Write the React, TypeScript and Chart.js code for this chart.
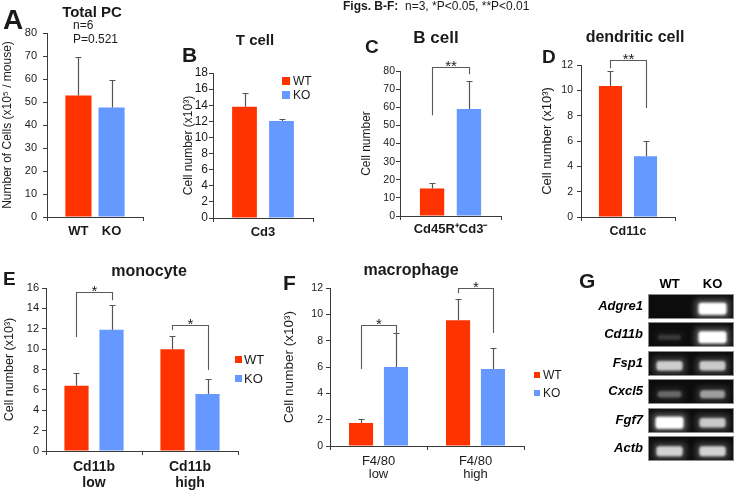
import React, { useEffect, useRef } from 'react';
import { Chart, registerables } from 'chart.js';

Chart.register(...registerables);

const FONT = '"Liberation Sans", Arial, Helvetica, sans-serif';
Chart.defaults.font.family = FONT;

const PAGE_W = 736;
const PAGE_H = 490;
const RED = '#FF3300';
const BLUE = '#6699FF';
const AXIS = '#3a3a3a';
const TEXT = '#1a1a1a';
const ERR = '#555555';

// ---------------- DATA ----------------
// A: Total PC
const aCategories = [''];
const aWT = [52.8];
const aKO = [47.6];
const aWTErr = [16.8];
const aKOErr = [12.1];

// B: T cell
const bCategories = ['Cd3'];
const bWT = [13.8];
const bKO = [12.05];
const bWTErr = [1.75];
const bKOErr = [0.2];

// C: B cell
const cCategories = ['Cd45R⁺Cd3⁻'];
const cWT = [15.2];
const cKO = [59.0];
const cWTErr = [3.1];
const cKOErr = [15.5];
const cBrackets = [{ cat: 0, left: 55.6, top: 82.2, right: 78.2, label: '**' }];

// D: dendritic cell
const dCategories = ['Cd11c'];
const dWT = [10.35];
const dKO = [4.8];
const dWTErr = [1.2];
const dKOErr = [1.2];
const dBrackets = [{ cat: 0, left: 11.75, top: 12.4, right: 8.6, label: '**' }];

// E: monocyte
const eCategories = [['Cd11b', 'low'], ['Cd11b', 'high']];
const eWT = [6.4, 10.0];
const eKO = [11.9, 5.6];
const eWTErr = [1.25, 1.3];
const eKOErr = [2.4, 1.45];
const eBrackets = [
  { cat: 0, left: 11.2, top: 15.6, right: 14.8, label: '*' },
  { cat: 1, left: 11.87, top: 12.37, right: 7.95, label: '*' },
];

// F: macrophage
const fCategories = [['F4/80', 'low'], ['F4/80', 'high']];
const fWT = [1.75, 9.55];
const fKO = [6.0, 5.85];
const fWTErr = [0.3, 1.65];
const fKOErr = [2.55, 1.6];
const fBrackets = [
  { cat: 0, left: 5.85, top: 9.19, right: 8.5, label: '*' },
  { cat: 1, left: 11.6, top: 12.0, right: 8.58, label: '*' },
];

// G: gel
const gelGenes = ['Adgre1', 'Cd11b', 'Fsp1', 'Cxcl5', 'Fgf7', 'Actb'];
const gelLanes = ['WT', 'KO'];
const gelWT = [0, 0.15, 0.7, 0.3, 1.0, 0.72];
const gelKO = [1.0, 1.0, 0.68, 0.5, 0.68, 0.72];

// ---------------- PLUGINS ----------------
const errorBarsPlugin: any = {
  id: 'errorBars',
  afterDatasetsDraw(chart: any, _a: any, opts: any) {
    const { ctx } = chart;
    const y = chart.scales.y;
    ctx.save();
    ctx.strokeStyle = opts.color || ERR;
    ctx.lineWidth = 1.2;
    chart.data.datasets.forEach((ds: any, i: number) => {
      const meta = chart.getDatasetMeta(i);
      meta.data.forEach((bar: any, j: number) => {
        const e = ds.errors ? ds.errors[j] : null;
        if (e == null) return;
        const v = ds.data[j];
        const x = Math.round(bar.x) + 0.5;
        const yTop = Math.round(y.getPixelForValue(v + e)) + 0.5;
        ctx.beginPath();
        ctx.moveTo(x, bar.y);
        ctx.lineTo(x, yTop);
        ctx.moveTo(x - (opts.cap || 3), yTop);
        ctx.lineTo(x + (opts.cap || 3), yTop);
        ctx.stroke();
      });
    });
    ctx.restore();
  },
};

const bracketPlugin: any = {
  id: 'brackets',
  afterDraw(chart: any, _a: any, opts: any) {
    const items = (opts && opts.items) || [];
    if (!items.length) return;
    const { ctx } = chart;
    const y = chart.scales.y;
    const m0 = chart.getDatasetMeta(0);
    const m1 = chart.getDatasetMeta(1);
    ctx.save();
    ctx.strokeStyle = opts.color;
    ctx.lineWidth = 1.1;
    items.forEach((b: any) => {
      const xl = Math.round(m0.data[b.cat].x) + 0.5;
      const xr = Math.round(m1.data[b.cat].x) + 0.5;
      const yl = y.getPixelForValue(b.left);
      const yt = Math.round(y.getPixelForValue(b.top)) + 0.5;
      const yr = y.getPixelForValue(b.right);
      ctx.beginPath();
      ctx.moveTo(xl, yl);
      ctx.lineTo(xl, yt);
      ctx.lineTo(xr, yt);
      ctx.lineTo(xr, yr);
      ctx.stroke();
      ctx.fillStyle = TEXT;
      ctx.font = `${opts.fontSize}px ${FONT}`;
      ctx.textAlign = 'center';
      ctx.textBaseline = 'alphabetic';
      ctx.fillText(b.label, (xl + xr) / 2, yt + opts.textDy);
    });
    ctx.restore();
  },
};

const miniLegendPlugin: any = {
  id: 'miniLegend',
  afterDraw(chart: any, _a: any, opts: any) {
    if (!opts || !opts.show) return;
    const { ctx } = chart;
    ctx.save();
    ctx.font = `${opts.fontSize}px ${FONT}`;
    ctx.textBaseline = 'middle';
    ctx.textAlign = 'left';
    chart.data.datasets.forEach((ds: any, i: number) => {
      const top = opts.y + i * opts.step;
      ctx.fillStyle = ds.backgroundColor;
      ctx.fillRect(opts.x, top, opts.size, opts.size);
      ctx.fillStyle = TEXT;
      ctx.fillText(ds.label, opts.x + opts.size + opts.textGap, top + opts.size / 2 + 0.5);
    });
    ctx.restore();
  },
};

const underLabelsPlugin: any = {
  id: 'underLabels',
  afterDraw(chart: any, _a: any, opts: any) {
    if (!opts || !opts.show) return;
    const { ctx, chartArea } = chart;
    ctx.save();
    ctx.font = `bold ${opts.fontSize}px ${FONT}`;
    ctx.fillStyle = TEXT;
    ctx.textAlign = 'center';
    ctx.textBaseline = 'alphabetic';
    chart.data.datasets.forEach((ds: any, i: number) => {
      chart.getDatasetMeta(i).data.forEach((bar: any) => {
        ctx.fillText(ds.label, bar.x, chartArea.bottom + opts.offset);
      });
    });
    ctx.restore();
  },
};

const gelPlugin: any = {
  id: 'gel',
  beforeDatasetsDraw(chart: any, _a: any, opts: any) {
    const { ctx, chartArea: ca } = chart;
    const y = chart.scales.y;
    const n = y.getLabels().length;
    const rowH = (ca.bottom - ca.top) / n;
    const w = ca.right - ca.left;
    const h = rowH - opts.gap;
    ctx.save();
    for (let i = 0; i < n; i++) {
      const yc = y.getPixelForValue(i);
      const top = Math.round(yc - h / 2);
      ctx.fillStyle = opts.rowColor;
      ctx.fillRect(ca.left, top, w, h);
      ctx.strokeStyle = opts.rowEdge;
      ctx.lineWidth = 1;
      ctx.strokeRect(ca.left + 0.5, top + 0.5, w - 1, h - 1);
    }
    chart.data.datasets.forEach((ds: any, di: number) => {
      const meta = chart.getDatasetMeta(di);
      meta.data.forEach((pt: any, j: number) => {
        const v = ds.data[j].v;
        if (!v) return;
        const xc = pt.x;
        const yc = pt.y + opts.bandDy;
        const top = Math.round(pt.y - h / 2);
        const bh = 4 + 8 * v;
        const bw = 22 + 6 * v;
        ctx.save();
        ctx.beginPath();
        ctx.rect(ca.left + 1, top + 1, w - 2, h - 2);
        ctx.clip();
        ctx.filter = 'blur(3px)';
        ctx.fillStyle = `rgba(255,255,255,${0.35 * v})`;
        ctx.fillRect(xc - bw / 2 - 3, yc - bh / 2 - 3, bw + 6, bh + 6);
        ctx.filter = 'blur(1.3px)';
        ctx.fillStyle = `rgba(255,255,255,${Math.min(1, v * 1.05)})`;
        ctx.beginPath();
        ctx.roundRect(xc - bw / 2, yc - bh / 2, bw, bh, 3);
        ctx.fill();
        ctx.restore();
      });
    });
    ctx.restore();
  },
};

// ---------------- CONFIG BUILDERS ----------------
function barConfig(p: any) {
  const padLeft = p.yTitleX - (p.yTitleSize * 1.2) / 2;
  return {
    type: 'bar',
    data: {
      labels: p.categories,
      datasets: [
        {
          label: 'WT',
          data: p.wt,
          errors: p.wtErr,
          backgroundColor: RED,
          borderWidth: 0,
          categoryPercentage: p.catPct,
          barPercentage: p.barPct,
        },
        {
          label: 'KO',
          data: p.ko,
          errors: p.koErr,
          backgroundColor: BLUE,
          borderWidth: 0,
          categoryPercentage: p.catPct,
          barPercentage: p.barPct,
        },
      ],
    },
    options: {
      animation: false,
      responsive: false,
      devicePixelRatio: 1,
      events: [],
      layout: {
        autoPadding: false,
        padding: { left: padLeft, top: p.area.t, right: PAGE_W - p.area.r, bottom: 0 },
      },
      plugins: {
        legend: { display: false },
        tooltip: { enabled: false },
        errorBars: { color: ERR, cap: 3 },
        brackets: { items: p.brackets || [], color: '#5a5a5a', fontSize: 15, textDy: 3 },
        miniLegend: p.legend ? { show: true, ...p.legend } : { show: false },
        underLabels: p.under ? { show: true, ...p.under } : { show: false },
      },
      scales: {
        x: {
          type: 'category',
          offset: true,
          grid: {
            offset: true,
            display: true,
            drawOnChartArea: false,
            drawTicks: true,
            tickLength: 4,
            color: AXIS,
          },
          border: { display: true, color: AXIS, width: 1 },
          ticks: {
            display: p.showX !== false,
            color: TEXT,
            padding: p.xPad,
            maxRotation: 0,
            autoSkip: false,
            font: p.xFont,
          },
          afterFit: (s: any) => {
            s.height = PAGE_H - p.area.b;
          },
        },
        y: {
          min: 0,
          max: p.yMax,
          grid: {
            display: true,
            drawOnChartArea: false,
            drawTicks: true,
            tickLength: 4,
            color: AXIS,
          },
          border: { display: true, color: AXIS, width: 1 },
          ticks: {
            stepSize: p.yStep,
            autoSkip: false,
            color: TEXT,
            padding: p.tickPad,
            font: { size: p.tickSize },
          },
          title: {
            display: true,
            text: p.yTitle,
            color: TEXT,
            padding: 0,
            font: { size: p.yTitleSize },
          },
          afterFit: (s: any) => {
            s.width = p.area.l - padLeft;
          },
        },
      },
    },
    plugins: [errorBarsPlugin, bracketPlugin, miniLegendPlugin, underLabelsPlugin],
  };
}

const panelA = {
  categories: aCategories, wt: aWT, ko: aKO, wtErr: aWTErr, koErr: aKOErr,
  yMax: 80, yStep: 10, yTitle: 'Number of Cells (x10⁵ / mouse)', yTitleSize: 12, yTitleX: 7.5,
  tickSize: 11, tickPad: 6, area: { l: 47, t: 33, r: 143, b: 217 },
  catPct: 0.69, barPct: 0.79, xFont: { size: 13, weight: 'bold' }, xPad: 2, showX: false,
  under: { offset: 18, fontSize: 13 },
};
const panelB = {
  categories: bCategories, wt: bWT, ko: bKO, wtErr: bWTErr, koErr: bKOErr,
  yMax: 18, yStep: 2, yTitle: 'Cell number (x10³)', yTitleSize: 12, yTitleX: 189,
  tickSize: 12, tickPad: 1, area: { l: 213, t: 73, r: 313, b: 218 },
  catPct: 0.74, barPct: 0.67, xFont: { size: 13, weight: 'bold' }, xPad: 3,
  legend: { x: 282, y: 77, size: 8, step: 14, textGap: 3, fontSize: 12 },
};
const panelC = {
  categories: cCategories, wt: cWT, ko: cKO, wtErr: cWTErr, koErr: cKOErr,
  yMax: 80, yStep: 10, yTitle: 'Cell number', yTitleSize: 12, yTitleX: 367,
  tickSize: 10.5, tickPad: 1, area: { l: 400, t: 71, r: 501, b: 216 },
  catPct: 0.73, barPct: 0.66, xFont: { size: 13, weight: 'bold' }, xPad: 2,
  brackets: cBrackets,
};
const panelD = {
  categories: dCategories, wt: dWT, ko: dKO, wtErr: dWTErr, koErr: dKOErr,
  yMax: 12, yStep: 2, yTitle: 'Cell number (x10³)', yTitleSize: 13, yTitleX: 547,
  tickSize: 10.5, tickPad: 4, area: { l: 581, t: 65, r: 675, b: 217 },
  catPct: 0.745, barPct: 0.66, xFont: { size: 12.5, weight: 'bold' }, xPad: 3,
  brackets: dBrackets,
};
const panelE = {
  categories: eCategories, wt: eWT, ko: eKO, wtErr: eWTErr, koErr: eKOErr,
  yMax: 16, yStep: 2, yTitle: 'Cell number (x10³)', yTitleSize: 12.5, yTitleX: 10,
  tickSize: 11, tickPad: 3, area: { l: 46, t: 288, r: 238, b: 451 },
  catPct: 0.73, barPct: 0.69, xFont: { size: 14, weight: 'bold', lineHeight: 1.15 }, xPad: 4,
  brackets: eBrackets,
  legend: { x: 235, y: 356, size: 7, step: 19, textGap: 2, fontSize: 13 },
};
const panelF = {
  categories: fCategories, wt: fWT, ko: fKO, wtErr: fWTErr, koErr: fKOErr,
  yMax: 12, yStep: 2, yTitle: 'Cell number (x10³)', yTitleSize: 13.5, yTitleX: 289,
  tickSize: 10.5, tickPad: 3, area: { l: 330, t: 288, r: 524, b: 446 },
  catPct: 0.72, barPct: 0.69, xFont: { size: 13, weight: 'normal', lineHeight: 1.0 }, xPad: 5,
  brackets: fBrackets,
  legend: { x: 534, y: 372, size: 6, step: 18, textGap: 3, fontSize: 12 },
};

function gelConfig() {
  const area = { l: 648, t: 292, r: 734, b: 463 };
  const padLeft = 560;
  const padTop = 260;
  return {
    type: 'scatter',
    data: {
      datasets: [
        { label: 'WT', data: gelGenes.map((g, i) => ({ x: 'WT', y: g, v: gelWT[i] })), pointRadius: 0 },
        { label: 'KO', data: gelGenes.map((g, i) => ({ x: 'KO', y: g, v: gelKO[i] })), pointRadius: 0 },
      ],
    },
    options: {
      animation: false,
      responsive: false,
      devicePixelRatio: 1,
      events: [],
      layout: {
        autoPadding: false,
        padding: { left: padLeft, top: padTop, right: PAGE_W - area.r, bottom: PAGE_H - area.b },
      },
      plugins: {
        legend: { display: false },
        tooltip: { enabled: false },
        gel: { gap: 3.5, rowColor: '#0c0c0c', rowEdge: '#8a8a8a', bandDy: 2.5 },
      },
      scales: {
        x: {
          type: 'category',
          labels: gelLanes,
          position: 'top',
          offset: true,
          grid: { display: false, drawTicks: false },
          border: { display: false },
          ticks: { color: '#000', padding: 0, font: { size: 13, weight: 'bold' } },
          afterFit: (s: any) => {
            s.height = area.t - padTop;
          },
        },
        y: {
          type: 'category',
          labels: gelGenes,
          offset: true,
          grid: { display: false, drawTicks: false },
          border: { display: false },
          ticks: { color: '#000', padding: 5, font: { size: 13, weight: 'bold', style: 'italic' } },
          afterFit: (s: any) => {
            s.width = area.l - padLeft;
          },
        },
      },
    },
    plugins: [gelPlugin],
  };
}

// ---------------- COMPONENTS ----------------
function ChartCanvas({ make }: { make: () => any }) {
  const ref = useRef<HTMLCanvasElement>(null);
  useEffect(() => {
    const chart = new Chart(ref.current as HTMLCanvasElement, make());
    return () => chart.destroy();
  }, []);
  return (
    <canvas
      ref={ref}
      width={PAGE_W}
      height={PAGE_H}
      style={{ position: 'absolute', left: 0, top: 0, width: PAGE_W, height: PAGE_H, pointerEvents: 'none' }}
    />
  );
}

function Txt({ x, y, size, bold, italic, align, children }: any) {
  const style: any = {
    position: 'absolute',
    top: y - 0.8465 * size,
    fontSize: size,
    lineHeight: `${size}px`,
    fontWeight: bold ? 700 : 400,
    fontStyle: italic ? 'italic' : 'normal',
    whiteSpace: 'pre',
    color: TEXT,
  };
  if (align === 'center') {
    style.left = x;
    style.transform = 'translateX(-50%)';
  } else {
    style.left = x;
  }
  return <div style={style}>{children}</div>;
}

export default function App() {
  return (
    <div
      style={{
        position: 'absolute',
        left: 0,
        top: 0,
        width: PAGE_W,
        height: PAGE_H,
        background: '#fff',
        overflow: 'hidden',
        fontFamily: FONT,
      }}
    >
      <ChartCanvas make={() => barConfig(panelA)} />
      <ChartCanvas make={() => barConfig(panelB)} />
      <ChartCanvas make={() => barConfig(panelC)} />
      <ChartCanvas make={() => barConfig(panelD)} />
      <ChartCanvas make={() => barConfig(panelE)} />
      <ChartCanvas make={() => barConfig(panelF)} />
      <ChartCanvas make={gelConfig} />

      <Txt x={343} y={10} size={12}>
        <b>Figs. B-F:</b>{'  n=3, *P<0.05, **P<0.01'}
      </Txt>

      <Txt x={3} y={30} size={28} bold>A</Txt>
      <Txt x={92} y={17} size={15} bold align="center">Total PC</Txt>
      <Txt x={73} y={29} size={12}>n=6</Txt>
      <Txt x={73} y={43} size={12}>P=0.521</Txt>

      <Txt x={182} y={62} size={21} bold>B</Txt>
      <Txt x={255} y={45} size={15} bold align="center">T cell</Txt>

      <Txt x={365} y={53} size={19} bold>C</Txt>
      <Txt x={436} y={43} size={17} bold align="center">B cell</Txt>

      <Txt x={542} y={63} size={19} bold>D</Txt>
      <Txt x={635} y={43} size={16} bold align="center">dendritic cell</Txt>

      <Txt x={3} y={285} size={19} bold>E</Txt>
      <Txt x={149} y={277} size={16} bold align="center">monocyte</Txt>

      <Txt x={283} y={290} size={21} bold>F</Txt>
      <Txt x={411} y={276} size={16} bold align="center">macrophage</Txt>

      <Txt x={579} y={288} size={21} bold>G</Txt>
    </div>
  );
}
